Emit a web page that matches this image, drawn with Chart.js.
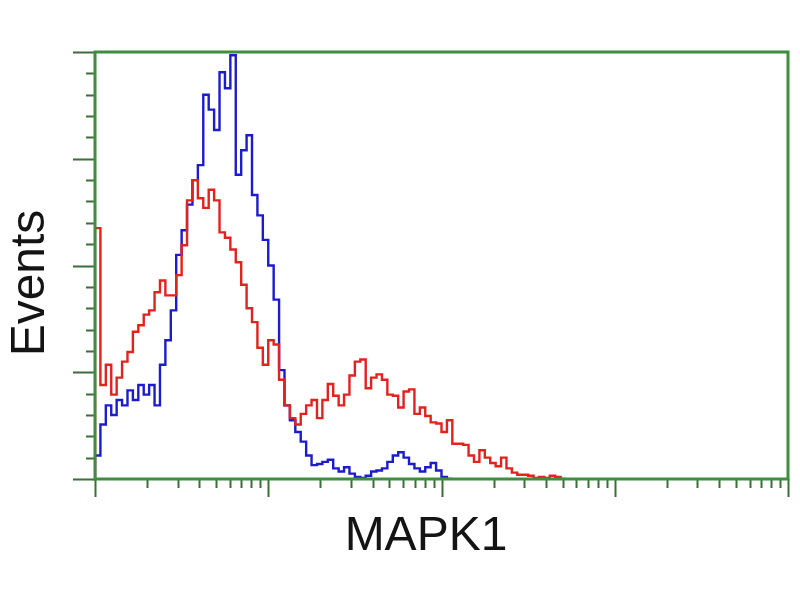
<!DOCTYPE html>
<html>
<head>
<meta charset="utf-8">
<script src="https://cdn.jsdelivr.net/npm/chart.js@4.4.1/dist/chart.umd.min.js"></script>
<style>
html,body{margin:0;padding:0;background:#fff;}
#wrap{width:800px;height:600px;}
</style>
</head>
<body>
<div id="wrap"><canvas id="c" width="800" height="600"></canvas></div>
<script>
// Histogram channels: 128 bins spread over 4 log decades (32 bins per decade)
const binsPerDecade = 32;
const decades = [1, 10, 100, 1000, 10000];
const xTitle = "MAPK1";
const yTitle = "Events";
const yMax = 400;
const yMajorStep = 100;
const yMinorStep = 20;

// Blue: control histogram (counts per bin)
const blueCounts = [22,51,69,60,74,69,83,74,88,79,88,69,107,130,158,210,233,257,280,294,
  360,346,327,381,366,397,285,308,322,266,247,224,200,168,102,69,55,44,35,22,
  13,14,16,18,10,7,11,5,2,1,3,7,8,10,16,22,25,20,14,10,
  7,11,15,8,2,0,0];
// Red: MAPK1-stained histogram (counts per bin)
const redCounts = [235,88,107,79,95,110,119,138,144,154,158,175,186,172,172,191,219,261,280,263,
  254,271,261,231,226,215,203,182,160,147,123,107,130,126,93,69,57,51,61,69,
  74,57,74,89,78,69,79,97,110,112,85,95,98,93,79,78,67,82,84,61,
  67,59,53,52,44,55,33,33,32,22,16,27,20,15,12,20,10,6,4,4,
  3,1,2,1,3,2,0,0];

function toPoints(arr){
  return [{x:0,y:0}].concat(arr.map((v,i)=>({x:i,y:v})));
}

const frameColor = '#3f8d3f';
const tickColor = '#3b6e3b';

const axesPlugin = {
  id:'facsAxes',
  afterDatasetsDraw(chart){
    const ctx = chart.ctx;
    const xs = chart.scales.x, ys = chart.scales.y;
    const a = chart.chartArea;
    ctx.save();
    // ticks
    ctx.strokeStyle = tickColor;
    ctx.lineWidth = 2;
    ctx.beginPath();
    for (let v = 0; v <= yMax; v += yMinorStep){
      const py = Math.round(ys.getPixelForValue(v)) + 0.5;
      const major = v % yMajorStep === 0;
      ctx.moveTo(a.left, py);
      ctx.lineTo(a.left - (major ? 22 : 9), py);
    }
    for (let d = 0; d < decades.length; d++){
      for (let k = 1; k <= 9; k++){
        if (d === decades.length - 1 && k > 1) break;
        const val = decades[d] * k;
        const ch = binsPerDecade * Math.log10(val);
        const px = Math.round(xs.getPixelForValue(ch)) + 0.5;
        const major = k === 1;
        ctx.moveTo(px, a.bottom);
        ctx.lineTo(px, a.bottom + (major ? 18 : 9));
      }
    }
    ctx.stroke();
    // frame
    ctx.strokeStyle = frameColor;
    ctx.lineWidth = 3;
    ctx.strokeRect(a.left, a.top, a.right - a.left, a.bottom - a.top);
    // axis titles
    ctx.fillStyle = '#141414';
    ctx.font = '48px "Liberation Sans", Arial, sans-serif';
    ctx.textAlign = 'center';
    ctx.textBaseline = 'middle';
    ctx.fillText(xTitle, 426, 537);
    ctx.translate(31, 283);
    ctx.rotate(-Math.PI/2);
    ctx.fillText(yTitle, 0, 0);
    ctx.restore();
  }
};

new Chart(document.getElementById('c'), {
  type:'line',
  data:{
    datasets:[
      {label:'MAPK1', data:toPoints(redCounts), borderColor:'#e2221c', borderWidth:2.4,
       stepped:true, pointRadius:0, fill:false, tension:0},
      {label:'Control', data:toPoints(blueCounts), borderColor:'#1c1ccf', borderWidth:2.4,
       stepped:true, pointRadius:0, fill:false, tension:0}
    ]
  },
  options:{
    responsive:false,
    animation:false,
    layout:{padding:{left:95, top:52, right:12, bottom:121}},
    plugins:{legend:{display:false}, tooltip:{enabled:false}},
    scales:{
      x:{type:'linear', min:0, max:binsPerDecade*(decades.length-1), display:false},
      y:{type:'linear', min:0, max:yMax, display:false}
    }
  },
  plugins:[axesPlugin]
});
</script>
</body>
</html>
